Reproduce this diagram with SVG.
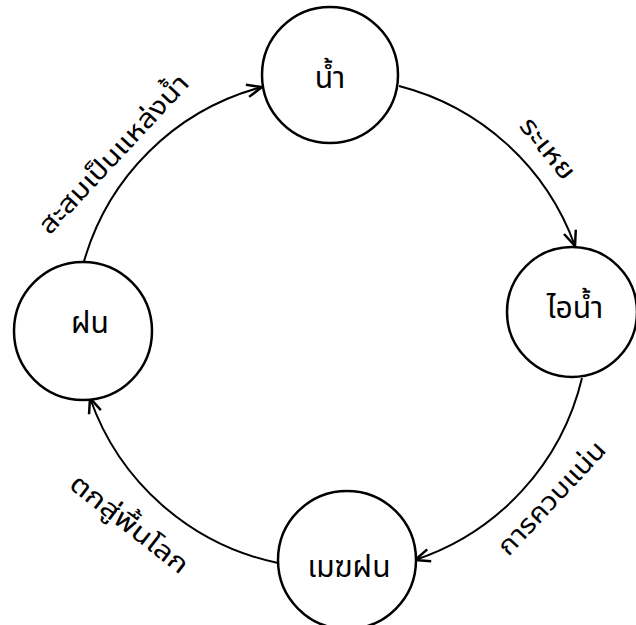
<svg xmlns="http://www.w3.org/2000/svg" width="636" height="625" viewBox="0 0 636 625">
<style>
.node{fill:#fff;stroke:#000;stroke-width:2.5}
.nl{font-family:"Noto Sans Thai","Noto Sans","DejaVu Sans",sans-serif;font-size:30px;text-anchor:middle;fill:#000}
.el{font-family:"Noto Sans Thai","Noto Sans","DejaVu Sans",sans-serif;font-size:26px;text-anchor:middle;fill:#000}
.edge{fill:none;stroke:#000;stroke-width:2;marker-end:url(#arr)}
</style>
<defs>
<marker id="arr" markerUnits="userSpaceOnUse" markerWidth="20" markerHeight="20" viewBox="-14 -8 16 16" refX="0" refY="0" orient="auto">
<path d="M-12,-5 L0,0 L-12,5" fill="none" stroke="#000" stroke-width="2"/>
</marker>
</defs>
<rect width="636" height="625" fill="#fff"/>
<g id="connectors">
<path class="edge" d="M83,265 A252,252 0 0,1 262,87"/>
<path class="edge" d="M399,86 A254,254 0 0,1 575,246"/>
<path class="edge" d="M582,378 A254,254 0 0,1 415,560"/>
<path class="edge" d="M278,563 A254,254 0 0,1 90,398"/>
<text class="el" transform="translate(120,160) rotate(-47)" textLength="207" lengthAdjust="spacingAndGlyphs">สะสมเป็นแหล่งน้ำ</text>
<text class="el" transform="translate(541,154) rotate(51)" textLength="72" lengthAdjust="spacingAndGlyphs">ระเหย</text>
<text class="el" transform="translate(558,504) rotate(-47)" textLength="145" lengthAdjust="spacingAndGlyphs">การควบแน่น</text>
<text class="el" transform="translate(124,531) rotate(38)" textLength="143" lengthAdjust="spacingAndGlyphs">ตกสู่พื้นโลก</text>
</g>
<g id="n_water"><circle class="node" cx="330" cy="75" r="68"/><text class="nl" x="330" y="88">น้ำ</text></g>
<g id="n_vapor"><circle class="node" cx="572" cy="312" r="65"/><text class="nl" x="575" y="318">ไอน้ำ</text></g>
<g id="n_cloud"><circle class="node" cx="347" cy="560" r="69"/><text class="nl" x="349" y="577">เมฆฝน</text></g>
<g id="n_rain"><circle class="node" cx="83" cy="331" r="69"/><text class="nl" x="90" y="333">ฝน</text></g>
</svg>
